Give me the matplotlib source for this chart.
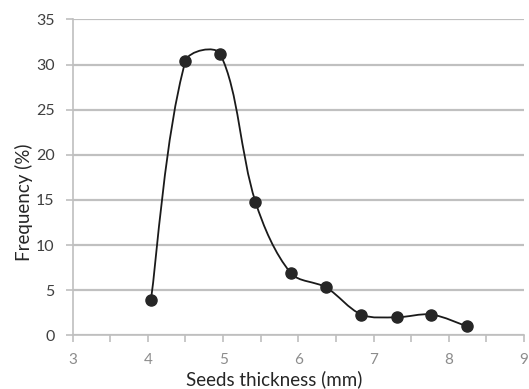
import numpy as np
import matplotlib
matplotlib.use("Agg")
import matplotlib.pyplot as plt
from matplotlib.path import Path
from matplotlib.patches import PathPatch

thickness = [4.04, 4.50, 4.96, 5.43, 5.90, 6.37, 6.84, 7.31, 7.77, 8.24]
frequency = [3.9, 30.4, 31.2, 14.8, 6.9, 5.3, 2.3, 2.0, 2.3, 1.0]
x_ticks = [3, 4, 5, 6, 7, 8, 9]
y_ticks = [0, 5, 10, 15, 20, 25, 30, 35]

plt.rcParams['font.family'] = ['Lato', 'DejaVu Sans']

fig = plt.figure(figsize=(5.29, 3.89), dpi=100)
ax = fig.add_axes([0.1374, 0.138, 0.853, 0.812])
ax.set_xlim(3, 9)
ax.set_ylim(0, 35)

# smoothed line (chord-length scaled Catmull-Rom Bezier in display space)
pts = ax.transData.transform(np.column_stack([thickness, frequency]))
n = len(pts)
s = 0.5
verts = [pts[0]]
codes = [Path.MOVETO]
def tangent(i):
    p_prev = pts[i - 1] if i > 0 else pts[i]
    p_next = pts[i + 1] if i < n - 1 else pts[i]
    return p_prev, p_next
for i in range(n - 1):
    p1, p2 = pts[i], pts[i + 1]
    a, b = tangent(i)
    d_prev = np.linalg.norm(p1 - a)
    d_next = np.linalg.norm(p2 - p1)
    f1 = s * d_next / (d_prev + d_next) if d_prev > 0 else s / 2
    c1 = p1 + (b - a) * f1 * (2 / 3)
    a2, b2 = tangent(i + 1)
    d_prev2 = np.linalg.norm(p2 - p1)
    d_next2 = np.linalg.norm(b2 - p2)
    f2 = s * d_prev2 / (d_prev2 + d_next2) if d_next2 > 0 else s / 2
    c2 = p2 - (b2 - a2) * f2 * (2 / 3)
    verts += [c1, c2, p2]
    codes += [Path.CURVE4] * 3
verts = ax.transData.inverted().transform(np.array(verts))
patch = PathPatch(Path(verts, codes), facecolor='none', edgecolor='#1a1a1a',
                  lw=1.3, zorder=3)
ax.add_patch(patch)
ax.plot(thickness, frequency, 'o', color='#262626', ms=8, zorder=4)

ax.set_xticks(x_ticks)
ax.set_xticks(np.arange(3.5, 9, 1.0), minor=True)
ax.set_yticks(y_ticks)
ax.yaxis.grid(True, color='#c0c0c0', lw=1.6)
ax.set_axisbelow(True)
for sp in ['top', 'right']:
    ax.spines[sp].set_visible(False)
for sp in ['left', 'bottom']:
    ax.spines[sp].set_color('#bfbfbf')
    ax.spines[sp].set_linewidth(1.2)
ax.tick_params(axis='both', which='both', color='#bfbfbf', width=1.2,
               length=5, direction='out')
ax.tick_params(axis='x', labelcolor='#8c8c8c', labelsize=11, pad=8)
ax.tick_params(axis='y', labelcolor='#404040', labelsize=11.5, pad=8)
fig.text(274 / 529, 1 - 379 / 389, 'Seeds thickness (mm)', fontsize=13.5,
         color='#262626', ha='center', va='center')
fig.text(24 / 529, 1 - 202 / 389, 'Frequency (%)', fontsize=13.5,
         color='#262626', ha='center', va='center', rotation=90)

fig.savefig('out.png', dpi=100)
